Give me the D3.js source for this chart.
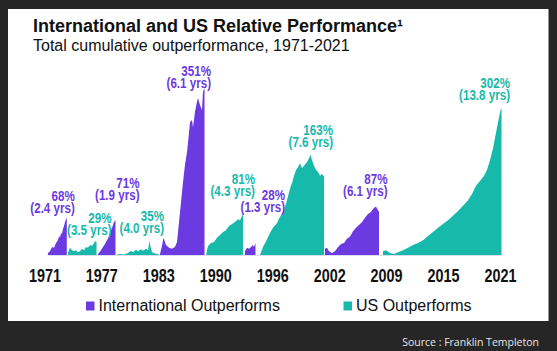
<!DOCTYPE html>
<html>
<head>
<meta charset="utf-8">
<script src="https://cdn.jsdelivr.net/npm/d3@7"></script>
<style>
  body { margin: 0; background: #262626; }
  svg { display: block; }
  .narrow { font-family: "Liberation Sans", Arial, sans-serif; font-weight: bold; }
  .plain { font-family: "Liberation Sans", Arial, sans-serif; }
</style>
</head>
<body>
<div id="chart"></div>
<script>
// year labels under the chart
var tickYears = [1971, 1977, 1983, 1990, 1996, 2002, 2009, 2015, 2021];

// cumulative outperformance inside each run, [year, value]
var intl1971 = [[1971.38,4],[1971.59,8],[1971.80,17],[1972.01,15],[1972.22,25],[1972.43,31],[1972.54,40],[1972.64,36],[1972.75,46],[1972.85,44],[1972.96,55],[1973.07,61],[1973.17,69],[1973.28,75],[1973.36,78]];
var us1973 = [[1973.49,6],[1973.70,15],[1973.91,10],[1974.12,8],[1974.33,10],[1974.54,6],[1974.75,8],[1974.96,13],[1975.17,10],[1975.38,17],[1975.59,15],[1975.81,21],[1976.02,19],[1976.23,25],[1976.33,29],[1976.49,27]];
var intl1976 = [[1976.65,2],[1976.75,4],[1976.96,10],[1977.17,17],[1977.38,23],[1977.59,31],[1977.81,38],[1977.91,46],[1978.12,57],[1978.23,63],[1978.33,69],[1978.49,73]];
var us1978 = [[1978.65,1],[1978.97,2],[1979.39,1],[1979.81,4],[1980.12,9],[1980.34,6],[1980.65,11],[1980.86,8],[1981.18,12],[1981.39,9],[1981.71,13],[1981.92,10],[1982.07,30],[1982.18,18],[1982.34,6],[1982.65,3],[1983.09,1]];
var intl1983 = [[1983.21,2],[1983.45,19],[1983.64,36],[1983.95,21],[1984.32,15],[1984.68,13],[1985.05,17],[1985.30,27],[1985.67,90],[1986.04,153],[1986.28,189],[1986.53,216],[1986.71,245],[1986.90,279],[1987.14,283],[1987.27,268],[1987.51,300],[1987.76,321],[1987.88,329],[1988.13,314],[1988.37,304],[1988.49,342],[1988.68,350]];
var us1988 = [[1988.92,5],[1989.11,19],[1989.48,25],[1989.85,27],[1990.18,36],[1990.50,42],[1990.82,48],[1991.13,52],[1991.45,61],[1991.77,65],[1992.08,69],[1992.40,75],[1992.61,73],[1992.82,82],[1992.92,86]];
var intl1993 = [[1993.13,8],[1993.35,15],[1993.56,13],[1993.77,17],[1993.98,21],[1994.08,17],[1994.24,25]];
var us1994 = [[1994.72,0],[1995.03,17],[1995.35,29],[1995.77,46],[1996.08,57],[1996.51,67],[1996.82,80],[1997.14,88],[1997.45,107],[1997.66,122],[1997.88,140],[1998.09,151],[1998.30,166],[1998.51,178],[1998.72,184],[1998.93,193],[1999.14,182],[1999.35,187],[1999.67,195],[1999.88,203],[2000.04,210],[2000.19,199],[2000.40,187],[2000.62,178],[2000.83,174],[2001.04,166],[2001.25,170],[2001.46,164]];
var intl2001 = [[2001.56,13],[2001.77,15],[2001.98,8],[2002.35,4],[2002.72,8],[2003.09,17],[2003.46,23],[2003.83,25],[2004.19,34],[2004.56,38],[2004.93,50],[2005.30,57],[2005.67,63],[2006.04,69],[2006.41,78],[2006.77,86],[2007.14,90],[2007.51,99],[2007.76,101],[2007.94,96],[2008.13,90]];
var us2008 = [[2008.62,8],[2008.99,10],[2009.41,4],[2009.83,2],[2010.25,6],[2010.78,10],[2011.31,15],[2011.84,21],[2012.36,25],[2012.89,31],[2013.42,40],[2013.94,48],[2014.47,57],[2014.99,65],[2015.52,73],[2016.05,82],[2016.58,92],[2017.10,103],[2017.63,115],[2018.05,128],[2018.47,145],[2018.89,155],[2019.32,166],[2019.63,178],[2019.95,199],[2020.27,224],[2020.58,256],[2020.84,283],[2021.06,304],[2021.16,308]];

var runs = [intl1971, us1973, intl1976, us1978, intl1983, us1988, intl1993, us1994, intl2001, us2008];
var runLeader = ["intl", "us", "intl", "us", "intl", "us", "intl", "us", "intl", "us"];
var peakLabels = ["68%", "29%", "71%", "35%", "351%", "81%", "28%", "163%", "87%", "302%"];
var lengthLabels = ["(2.4 yrs)", "(3.5 yrs)", "(1.9 yrs)", "(4.0 yrs)", "(6.1 yrs)", "(4.3 yrs)", "(1.3 yrs)", "(7.6 yrs)", "(6.1 yrs)", "(13.8 yrs)"];
var legendKeys = ["intl", "us"];
var legendLabels = ["International Outperforms", "US Outperforms"];

function init() {
    var w = 557;
    var h = 351;
    var colors = { intl: "#6b3ae0", us: "#17b9ab" };
    var squeeze = 0.8; // the labels use a condensed face
    // where each label sits relative to end of run / peak: [dx, dy]
    var labelShift = [[8,-5],[15,-6],[24,-20],[5,-8],[6.5,0],[12,-18],[29.5,-31],[9,-8],[8.5,-11],[8.5,-8]];

    var svg = d3.select("#chart")
                .append("svg")
                .attr("width", w)
                .attr("height", h);

    svg.append("rect")
       .attr("x", 8).attr("y", 9)
       .attr("width", 540.5).attr("height", 312)
       .attr("fill", "#ffffff");

    var x = d3.scaleLinear()
              .domain(tickYears)
              .range(tickYears.map(function(d, i) { return 44.4 + i * 56.95; }));
    var y = d3.scaleLinear()
              .domain([0, 350])
              .range([255, 88]);

    // titles
    svg.append("text")
       .attr("class", "plain")
       .attr("x", 33).attr("y", 31.5)
       .attr("font-size", 18).attr("font-weight", "bold")
       .attr("fill", "#111")
       .text("International and US Relative Performance\u00b9");
    svg.append("text")
       .attr("class", "plain")
       .attr("x", 33).attr("y", 51)
       .attr("font-size", 16)
       .attr("fill", "#111")
       .text("Total cumulative outperformance, 1971-2021");

    svg.append("line")
       .attr("x1", x(1971.3)).attr("x2", x(2021.2))
       .attr("y1", 255.5).attr("y2", 255.5)
       .attr("stroke", "#dcdcea");

    var area = d3.area()
                 .x(function(d) { return x(d[0]); })
                 .y0(y(0))
                 .y1(function(d) { return y(d[1]); });

    svg.selectAll("path.run")
       .data(runs)
       .enter()
       .append("path")
       .attr("class", "run")
       .attr("fill", function(d, i) { return colors[runLeader[i]]; })
       .attr("d", area);

    // peak and length labels
    var labels = svg.selectAll("g.lbl")
                    .data(runs)
                    .enter()
                    .append("g")
                    .attr("class", "lbl narrow")
                    .attr("font-size", 14.5)
                    .attr("text-anchor", "end")
                    .attr("fill", function(d, i) { return colors[runLeader[i]]; })
                    .attr("transform", function(d, i) {
                        var last = d[d.length - 1];
                        var top = d3.max(d, function(p) { return p[1]; });
                        return "translate(" + (x(last[0]) + labelShift[i][0]) + "," + (y(top) + labelShift[i][1]) + ") scale(" + squeeze + ",1)";
                    });
    labels.append("text")
          .attr("y", -12)
          .text(function(d, i) { return peakLabels[i]; });
    labels.append("text")
          .text(function(d, i) { return lengthLabels[i]; });

    // year axis
    var axis = d3.axisBottom(x)
                 .tickValues(tickYears)
                 .tickFormat(d3.format("d"))
                 .tickSize(0)
                 .tickPadding(0);
    var gx = svg.append("g")
                .attr("transform", "translate(0,282)")
                .call(axis);
    gx.select(".domain").remove();
    gx.selectAll("text")
      .attr("class", "narrow")
      .attr("dy", 0)
      .attr("font-size", 18)
      .attr("fill", "#111")
      .attr("transform", "scale(" + squeeze + ",1)");

    // legend
    var legendX = [86, 343.5];
    var lg = svg.selectAll("g.legend")
                .data(legendKeys)
                .enter()
                .append("g")
                .attr("class", "legend")
                .attr("transform", function(d, i) { return "translate(" + legendX[i] + ",0)"; });
    lg.append("rect")
      .attr("y", 301.5)
      .attr("width", 8.5).attr("height", 9)
      .attr("fill", function(d) { return colors[d]; });
    lg.append("text")
      .attr("class", "plain")
      .attr("x", 12.5).attr("y", 310.5)
      .attr("font-size", 16)
      .attr("fill", "#111")
      .text(function(d, i) { return legendLabels[i]; });

    svg.append("text")
       .attr("x", 539).attr("y", 346)
       .attr("text-anchor", "end")
       .attr("font-family", "'Open Sans', 'Noto Sans', sans-serif")
       .attr("font-size", 10.5)
       .attr("fill", "#e6e6e6")
       .text("Source : Franklin Templeton");
}
window.onload = init;
</script>
</body>
</html>
